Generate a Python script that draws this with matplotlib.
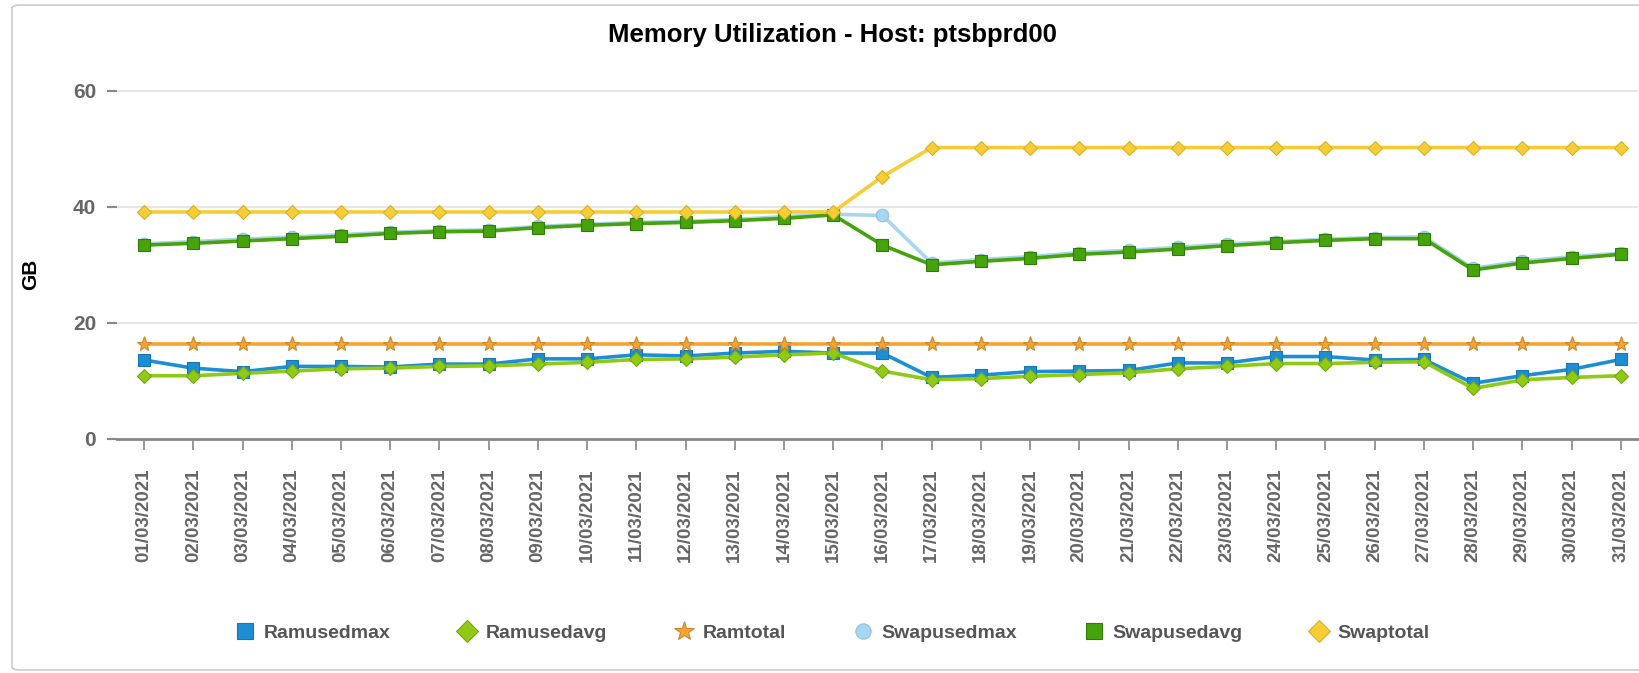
import numpy as np
import matplotlib
matplotlib.use("Agg")
import matplotlib.pyplot as plt
from matplotlib.patches import FancyBboxPatch

plt.rcParams['font.family'] = ['Liberation Sans', 'DejaVu Sans']

dates = ["%02d/03/2021" % d for d in range(1, 32)]

ramusedmax = [13.6, 12.2, 11.6, 12.5, 12.5, 12.4, 12.9, 12.9, 13.8, 13.8,
              14.5, 14.3, 14.8, 15.1, 14.8, 14.8, 10.6, 11.0, 11.6, 11.7,
              11.8, 13.1, 13.1, 14.2, 14.2, 13.6, 13.7, 9.6, 10.9, 12.0, 13.7]
ramusedavg = [10.9, 10.9, 11.3, 11.7, 12.1, 12.2, 12.5, 12.6, 12.9, 13.2,
              13.7, 13.8, 14.1, 14.5, 14.8, 11.7, 10.2, 10.4, 10.8, 11.1,
              11.4, 12.1, 12.5, 13.0, 13.0, 13.2, 13.3, 8.7, 10.2, 10.6, 10.9]
ramtotal = [16.4] * 31
swapusedmax = [33.6, 34.0, 34.4, 34.8, 35.2, 35.6, 35.9, 36.0, 36.6, 37.0,
               37.3, 37.5, 37.8, 38.3, 38.7, 38.5, 30.3, 30.9, 31.4, 32.1,
               32.5, 33.0, 33.6, 34.0, 34.4, 34.7, 34.8, 29.4, 30.6, 31.4, 32.0]
swapusedavg = [33.4, 33.7, 34.1, 34.5, 34.9, 35.4, 35.7, 35.8, 36.4, 36.8,
               37.1, 37.3, 37.6, 38.0, 38.6, 33.4, 30.0, 30.6, 31.1, 31.8,
               32.2, 32.7, 33.3, 33.8, 34.2, 34.5, 34.5, 29.1, 30.3, 31.1, 31.8]
swaptotal = [39.1] * 15 + [45.2] + [50.2] * 15

series = [
    ("Ramusedmax", ramusedmax, "#1e8ed4", "#1577b5", "s", 8),
    ("Ramusedavg", ramusedavg, "#8fca14", "#74a810", "D", 7),
    ("Ramtotal", ramtotal, "#f7a22e", "#c98a30", "*", 11),
    ("Swapusedmax", swapusedmax, "#a9d5f0", "#8fc3e3", "o", 9),
    ("Swapusedavg", swapusedavg, "#47a30c", "#2f7d06", "s", 8),
    ("Swaptotal", swaptotal, "#f6cd35", "#d9b02a", "D", 7),
]

fig = plt.figure(figsize=(16.4, 6.73), dpi=100)
ax = fig.add_axes([117 / 1640, 1 - 439 / 673, (1638 - 117) / 1640, (439 - 79) / 673])

x = np.arange(len(dates))
for i, (name, vals, col, edge, mk, ms) in enumerate(series):
    ax.plot(x, vals, color=col, lw=2.6, marker=mk, markersize=ms,
            markerfacecolor=col, markeredgecolor=edge, markeredgewidth=0.8,
            label=name, zorder=3 + i, clip_on=False)

ax.set_xlim(-0.55, 30.35)
ax.set_ylim(0, 62)
ax.set_yticks([0, 20, 40, 60])
ax.grid(axis='y', color='#e6e6e6', lw=1.5)
ax.set_axisbelow(True)
for s in ['top', 'right', 'left']:
    ax.spines[s].set_visible(False)
ax.spines['bottom'].set_color('#888888')
ax.spines['bottom'].set_linewidth(2)

ax.set_xticks(x)
ax.set_xticklabels(dates, rotation=90, fontsize=13.5, fontweight='bold', color='#666666')
ax.tick_params(axis='x', length=8, width=1.2, color='#888888', pad=13)
ax.tick_params(axis='y', length=7, width=1.5, color='#888888', pad=8,
               labelsize=15, labelcolor='#666666')
for lb in ax.get_yticklabels():
    lb.set_fontweight('bold')

fig.text(832 / 1640, 1 - 35 / 673, "Memory Utilization - Host: ptsbprd00",
         ha='center', va='center', fontsize=18.5, fontweight='bold', color='black')
fig.text(31 / 1640, 1 - 274 / 673, "GB", rotation=90, ha='center', va='center',
         fontsize=15, fontweight='bold', color='black')

leg = fig.legend(loc='center', bbox_to_anchor=(834 / 1640, 1 - 633 / 673), ncol=6,
                 frameon=False, fontsize=14, handlelength=0.7, handletextpad=0.6,
                 columnspacing=3.6)
for t in leg.get_texts():
    t.set_fontweight('bold')
    t.set_color('#555555')
for h in leg.legend_handles:
    h.set_linestyle('none')
    h.set_markersize(15 if h.get_marker() == '*' else 11)

border = FancyBboxPatch((12 / 1640, 3 / 673), 1.0, 1 - 8 / 673,
                        boxstyle="round,pad=0,rounding_size=0.005",
                        transform=fig.transFigure, fill=False,
                        edgecolor='#cccccc', lw=1.2)
fig.patches.append(border)

fig.savefig("out.png", dpi=100)
